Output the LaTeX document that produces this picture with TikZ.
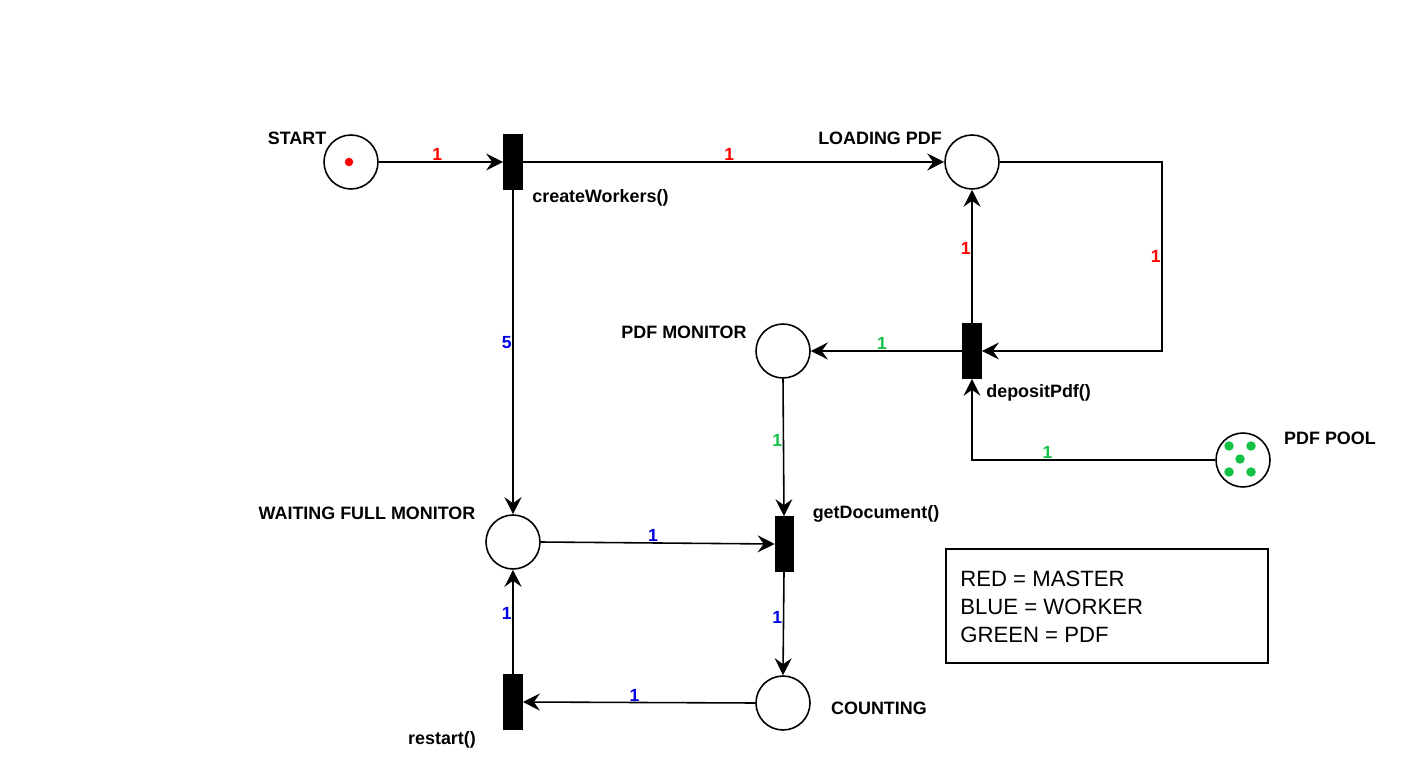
\documentclass[tikz,border=0pt]{standalone}
\usepackage{fontspec}
\setmainfont{Liberation Sans}
\usetikzlibrary{arrows.meta}
\definecolor{mred}{RGB}{255,0,0}
\definecolor{mblue}{RGB}{0,0,230}
\definecolor{mgreen}{RGB}{20,192,70}
\tikzset{
  place/.style={circle,draw,line width=0.9pt,minimum size=1.08cm,inner sep=0pt},
  trans/.style={rectangle,fill=black,draw=black,minimum width=0.38cm,minimum height=1.1cm,inner sep=0pt},
  arc/.style={draw,line width=0.9pt,-{Stealth[length=0.34cm,width=0.34cm,inset=0.12cm]}},
  lbl/.style={font=\fontsize{10.2}{12}\selectfont\bfseries,inner sep=0pt},
  wt/.style={font=\fontsize{10}{11}\selectfont\bfseries,inner sep=0.3pt},
  tok/.style={circle,fill=#1,inner sep=0pt,minimum size=0.19cm}
}
\begin{document}
\begin{tikzpicture}[x=0.02cm,y=-0.02cm]
\useasboundingbox (0,0) rectangle (1419,776);
% places
\node[place] (start) at (351,162) {};
\node[tok=mred,minimum size=0.17cm] (t0) at (349,162) {};
\node[place] (loading) at (972,162) {};
\node[place] (mon) at (783,351) {};
\node[place] (pool) at (1243,460) {};
\node[place] (wait) at (513,542) {};
\node[place] (count) at (783,703) {};
% tokens in pool
\node[tok=mgreen] (p1) at (1229,446) {};
\node[tok=mgreen] (p2) at (1251,446) {};
\node[tok=mgreen] (p3) at (1240,459) {};
\node[tok=mgreen] (p4) at (1229,472) {};
\node[tok=mgreen] (p5) at (1251,472) {};
% transitions
\node[trans] (cw) at (513,162) {};
\node[trans] (dep) at (972,351) {};
\node[trans,minimum width=0.36cm] (getd) at (784,544) {};
\node[trans] (restart) at (513,702) {};
% labels
\node[lbl] (lstart) at (297,138) {START};
\node[lbl,anchor=west] (lcw) at (532,198) {createWorkers()};
\node[lbl] (lload) at (880,138) {LOADING PDF};
\node[lbl] (lmon) at (684,332) {PDF MONITOR};
\node[lbl,anchor=west] (ldep) at (986,393) {depositPdf()};
\node[lbl] (lpool) at (1330,438) {PDF POOL};
\node[lbl] (lwait) at (367,513) {WAITING FULL MONITOR};
\node[lbl] (lget) at (876,514) {getDocument()};
\node[lbl] (lcount) at (879,708) {COUNTING};
\node[lbl] (lrest) at (442,740) {restart()};
% legend
\node[draw,line width=0.9pt,minimum width=6.44cm,minimum height=2.28cm,inner sep=0pt] (legend) at (1107,606) {};
\node[anchor=west,align=left,font=\fontsize{12.6}{15.9}\selectfont,inner sep=0pt] (legtext) at (960,607) {RED = MASTER\\BLUE = WORKER\\GREEN = PDF};
% arcs
\coordinate (c1) at (1162,162);
\draw[arc] (start) -- node[wt,text=mred,anchor=south,pos=0.47] {1} (cw);
\draw[arc] (cw) -- node[wt,text=mred,anchor=south,pos=0.49] {1} (loading);
\draw[arc] (loading.east) -- (c1) -- node[wt,text=mred,anchor=east,pos=0.5] {1} (c1 |- dep.east) -- (dep.east);
\draw[arc] (dep.north) -- node[wt,text=mred,anchor=east,pos=0.56] {1} (loading.south);
\draw[arc] (dep.west) -- node[wt,text=mgreen,anchor=south,pos=0.53] {1} (mon.east);
\draw[arc] (pool.west) -- node[wt,text=mgreen,anchor=south,pos=0.69] {1} (dep.south |- pool.west) -- (dep.south);
\draw[arc] (cw.south) -- node[wt,text=mblue,anchor=east,pos=0.47] {5} (wait.north);
\draw[arc] (mon.south) -- node[wt,text=mgreen,anchor=east,pos=0.45] {1} (getd.north);
\draw[arc] (wait.east) -- node[wt,text=mblue,anchor=south,pos=0.48] {1} (getd.west);
\draw[arc] (getd.south) -- node[wt,text=mblue,anchor=east,pos=0.44] {1} (count.north);
\draw[arc] (count.west) -- node[wt,text=mblue,anchor=south,pos=0.52] {1} (restart.east);
\draw[arc] (restart.north) -- node[wt,text=mblue,anchor=east,pos=0.58] {1} (wait.south);
\end{tikzpicture}
\end{document}
